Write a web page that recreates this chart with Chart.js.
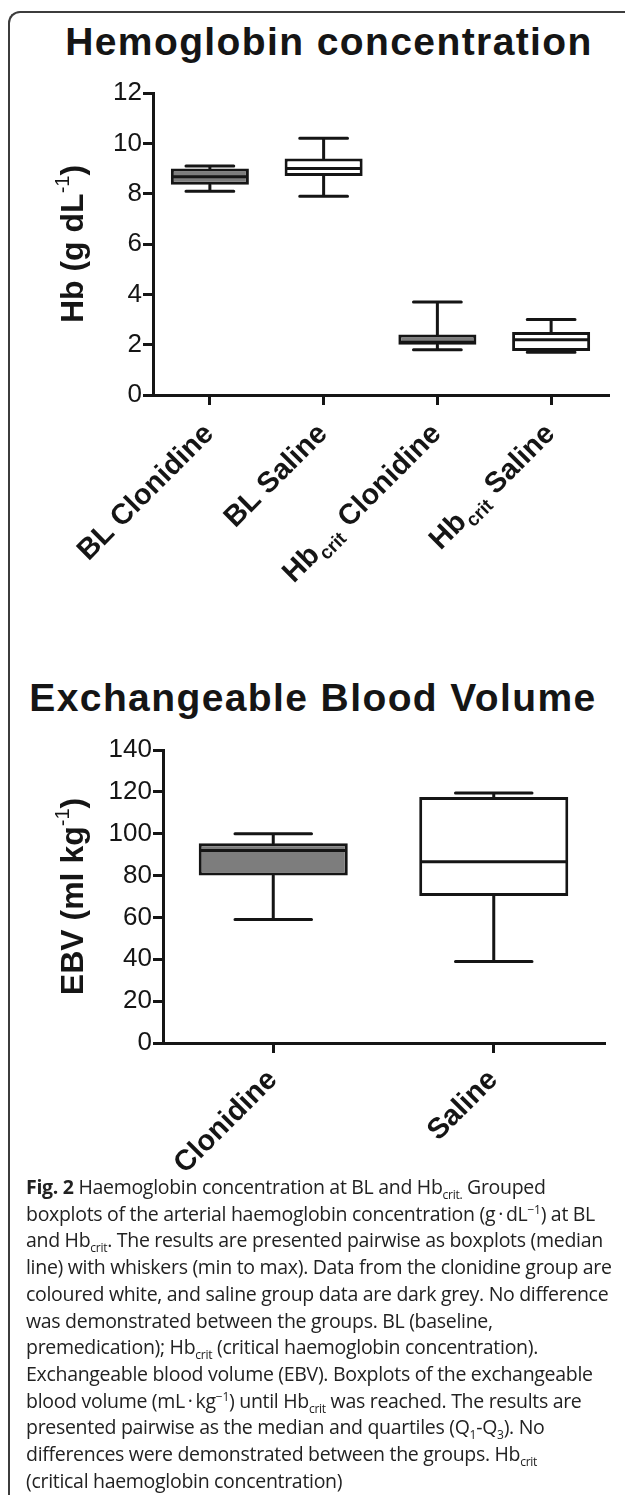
<!DOCTYPE html>
<html>
<head>
<meta charset="utf-8">
<title>Hemoglobin concentration / Exchangeable Blood Volume</title>
<script src="https://cdn.jsdelivr.net/npm/chart.js@4.4.0/dist/chart.umd.min.js"></script>
<style>
  html, body { margin: 0; padding: 0; background: #fff; }
  body { width: 625px; height: 1495px; position: relative; overflow: hidden;
         font-family: 'Liberation Sans', Arial, Helvetica, sans-serif; color: #151515; }
  .frame { position: absolute; left: 8px; top: 11px; width: 660px; height: 1520px;
           border-left: 2px solid #3c3c3c; border-top: 2px solid #3c3c3c; border-top-left-radius: 12px; }
  .chart-title { position: absolute; font-weight: bold; font-size: 39px; line-height: 39px;
                 letter-spacing: 1.4px; white-space: nowrap; transform: translateX(-50%); }
  #hbTitle { left: 329px; top: 22px; }
  #ebvTitle { left: 313px; top: 678px; }
  .box { position: absolute; left: 0; width: 625px; }
  #hbBox { top: 0; height: 640px; }
  #ebvBox { top: 640px; height: 540px; }
  .caption { position: absolute; left: 26px; top: 1174px; width: 595px;
             font-family: 'Open Sans', 'Noto Sans', sans-serif; font-size: 19.5px; line-height: 26.7px;
             letter-spacing: -0.3px; color: #222; white-space: nowrap; }
  .caption b { font-weight: 700; }
  .caption sub, .caption sup { font-size: 0.62em; line-height: 0; }
</style>
</head>
<body>
<div class="frame"></div>
<div class="chart-title" id="hbTitle">Hemoglobin concentration</div>
<div class="box" id="hbBox"><canvas id="hbChart"></canvas></div>
<div class="chart-title" id="ebvTitle">Exchangeable Blood Volume</div>
<div class="box" id="ebvBox"><canvas id="ebvChart"></canvas></div>
<div class="caption">
<b>Fig. 2</b> Haemoglobin concentration at BL and Hb<sub>crit.</sub> Grouped<br>
boxplots of the arterial haemoglobin concentration (g&thinsp;·&thinsp;dL<sup>−1</sup>) at BL<br>
and Hb<sub>crit</sub>. The results are presented pairwise as boxplots (median<br>
line) with whiskers (min to max). Data from the clonidine group are<br>
coloured white, and saline group data are dark grey. No difference<br>
was demonstrated between the groups. BL (baseline,<br>
premedication); Hb<sub>crit</sub> (critical haemoglobin concentration).<br>
Exchangeable blood volume (EBV). Boxplots of the exchangeable<br>
blood volume (mL&thinsp;·&thinsp;kg<sup>−1</sup>) until Hb<sub>crit</sub> was reached. The results are<br>
presented pairwise as the median and quartiles (Q<sub>1</sub>-Q<sub>3</sub>). No<br>
differences were demonstrated between the groups. Hb<sub>crit</sub><br>
(critical haemoglobin concentration)
</div>

<script>
// --- data ---
const hbCategories = ['BL Clonidine', 'BL Saline', 'Hb_crit Clonidine', 'Hb_crit Saline'];
const hbMin    = [8.1, 7.9, 1.8, 1.7];
const hbQ1     = [8.35, 8.7, 2.0, 1.75];
const hbMedian = [8.67, 9.0, 2.1, 2.2];
const hbQ3     = [9.0, 9.4, 2.4, 2.5];
const hbMax    = [9.1, 10.2, 3.7, 3.0];
const hbTicks  = [0, 2, 4, 6, 8, 10, 12];

const ebvCategories = ['Clonidine', 'Saline'];
const ebvMin    = [59, 39];
const ebvQ1     = [80, 70.2];
const ebvMedian = [92, 86.6];
const ebvQ3     = [95.5, 117.5];
const ebvMax    = [100, 119.5];
const ebvTicks  = [0, 20, 40, 60, 80, 100, 120, 140];

const FONT = "'Liberation Sans', Arial, Helvetica, sans-serif";
const INK = '#151515';
const GREY = '#7d7d7d';

// whiskers under the boxes, median lines on top
const boxWhiskers = {
  id: 'boxWhiskers',
  beforeDatasetsDraw(chart, args, opts) {
    const ctx = chart.ctx, xs = chart.scales.x, ys = chart.scales.y;
    const capHalf = xs.width / chart.data.labels.length * opts.capFrac / 2;
    ctx.save();
    ctx.strokeStyle = INK;
    ctx.lineWidth = 3;
    ctx.lineCap = 'round';
    chart.data.labels.forEach((_, i) => {
      const x = xs.getPixelForValue(i);
      const yMax = ys.getPixelForValue(opts.max[i]);
      const yMin = ys.getPixelForValue(opts.min[i]);
      const yQ3 = ys.getPixelForValue(opts.q3[i]);
      const yQ1 = ys.getPixelForValue(opts.q1[i]);
      ctx.beginPath();
      ctx.moveTo(x, yQ3); ctx.lineTo(x, yMax);
      ctx.moveTo(x, yQ1); ctx.lineTo(x, yMin);
      ctx.moveTo(x - capHalf, yMax); ctx.lineTo(x + capHalf, yMax);
      ctx.moveTo(x - capHalf, yMin); ctx.lineTo(x + capHalf, yMin);
      ctx.stroke();
    });
    ctx.restore();
  },
  afterDatasetsDraw(chart, args, opts) {
    const ctx = chart.ctx, ys = chart.scales.y;
    const bars = chart.getDatasetMeta(0).data;
    ctx.save();
    ctx.strokeStyle = INK;
    ctx.lineWidth = 3;
    bars.forEach((bar, i) => {
      const y = ys.getPixelForValue(opts.median[i]);
      ctx.beginPath();
      ctx.moveTo(bar.x - bar.width / 2 + 1, y);
      ctx.lineTo(bar.x + bar.width / 2 - 1, y);
      ctx.stroke();
    });
    ctx.restore();
  }
};

// rotated category labels, "Hb_crit" gets a subscript
function splitLabel(label) {
  const m = label.match(/^(.*?)_(\w+)(.*)$/);
  if (!m) return [{ t: label }];
  return [{ t: m[1] }, { t: m[2], sub: true }, { t: m[3] }];
}

const rotLabels = {
  id: 'rotLabels',
  afterDraw(chart, args, opts) {
    const ctx = chart.ctx, xs = chart.scales.x;
    const main = 'bold 29px ' + FONT, small = 'bold 19px ' + FONT;
    ctx.save();
    ctx.fillStyle = INK;
    chart.data.labels.forEach((label, i) => {
      const segs = splitLabel(label);
      ctx.save();
      ctx.translate(xs.getPixelForValue(i) + opts.dx, xs.top + opts.dy);
      ctx.rotate(-Math.PI / 4);
      let total = 0;
      segs.forEach(s => { ctx.font = s.sub ? small : main; s.w = ctx.measureText(s.t).width + (s.sub ? 2 : 0); total += s.w; });
      let cx = -total;
      segs.forEach(s => {
        ctx.font = s.sub ? small : main;
        ctx.fillText(s.t, cx + (s.sub ? 1 : 0), s.sub ? 17 : 10);
        cx += s.w;
      });
      ctx.restore();
    });
    ctx.restore();
  }
};

// y axis title with superscript "-1"
const yTitle = {
  id: 'yTitle',
  afterDraw(chart, args, opts) {
    const ctx = chart.ctx, ca = chart.chartArea;
    const segs = [
      { t: opts.text, f: 'bold 32px ' + FONT, dy: 0 },
      { t: '-1', f: '20px ' + FONT, dy: -14 },
      { t: ')', f: 'bold 32px ' + FONT, dy: 0 }
    ];
    ctx.save();
    ctx.fillStyle = INK;
    ctx.translate(opts.x, (ca.top + ca.bottom) / 2);
    ctx.rotate(-Math.PI / 2);
    let total = 0;
    segs.forEach(s => { ctx.font = s.f; s.w = ctx.measureText(s.t).width; total += s.w; });
    let cx = -total / 2;
    segs.forEach(s => { ctx.font = s.f; ctx.fillText(s.t, cx, s.dy); cx += s.w; });
    ctx.restore();
  }
};

function makeBoxChart(canvasId, d, lay) {
  const axisStyle = {
    display: true, drawOnChartArea: false, drawTicks: true,
    tickLength: 10, color: INK, lineWidth: 3
  };
  return new Chart(document.getElementById(canvasId), {
    type: 'bar',
    data: {
      labels: d.labels,
      datasets: [{
        data: d.labels.map((_, i) => [d.q1[i], d.q3[i]]),
        backgroundColor: d.fills,
        borderColor: INK,
        borderWidth: 3,
        borderSkipped: false,
        barPercentage: lay.barFrac,
        categoryPercentage: 1
      }]
    },
    options: {
      responsive: true,
      maintainAspectRatio: false,
      animation: false,
      layout: { padding: { top: lay.top, right: lay.right, left: 0, bottom: 0 } },
      scales: {
        x: {
          offset: true,
          grid: Object.assign({}, axisStyle, { offset: false }),
          border: { display: true, color: INK, width: 3 },
          ticks: { display: false },
          afterFit(s) { s.height = lay.xHeight; }
        },
        y: {
          min: d.ticks[0],
          max: d.ticks[d.ticks.length - 1],
          afterBuildTicks(s) { s.ticks = d.ticks.map(v => ({ value: v })); },
          grid: axisStyle,
          border: { display: true, color: INK, width: 3 },
          ticks: { font: { family: FONT, size: 26 }, color: INK, padding: 1 },
          afterFit(s) { s.width = lay.axisX; }
        }
      },
      plugins: {
        legend: { display: false },
        tooltip: { enabled: false },
        boxWhiskers: { min: d.min, q1: d.q1, q3: d.q3, median: d.median, max: d.max, capFrac: lay.capFrac },
        rotLabels: { dx: lay.labelDx, dy: lay.labelDy },
        yTitle: { text: d.yText, x: 83 }
      }
    },
    plugins: [boxWhiskers, rotLabels, yTitle]
  });
}

makeBoxChart('hbChart', {
  labels: hbCategories, min: hbMin, q1: hbQ1, median: hbMedian, q3: hbQ3, max: hbMax,
  ticks: hbTicks, fills: [GREY, '#ffffff', GREY, '#ffffff'], yText: 'Hb (g dL'
}, { top: 93, right: 17, axisX: 153, xHeight: 245, barFrac: 0.686, capFrac: 0.42, labelDx: -2, labelDy: 33 });

makeBoxChart('ebvChart', {
  labels: ebvCategories, min: ebvMin, q1: ebvQ1, median: ebvMedian, q3: ebvQ3, max: ebvMax,
  ticks: ebvTicks, fills: [GREY, '#ffffff'], yText: 'EBV (ml kg'
}, { top: 110, right: 21, axisX: 163, xHeight: 137, barFrac: 0.676, capFrac: 0.347, labelDx: -2, labelDy: 31 });
</script>
</body>
</html>
